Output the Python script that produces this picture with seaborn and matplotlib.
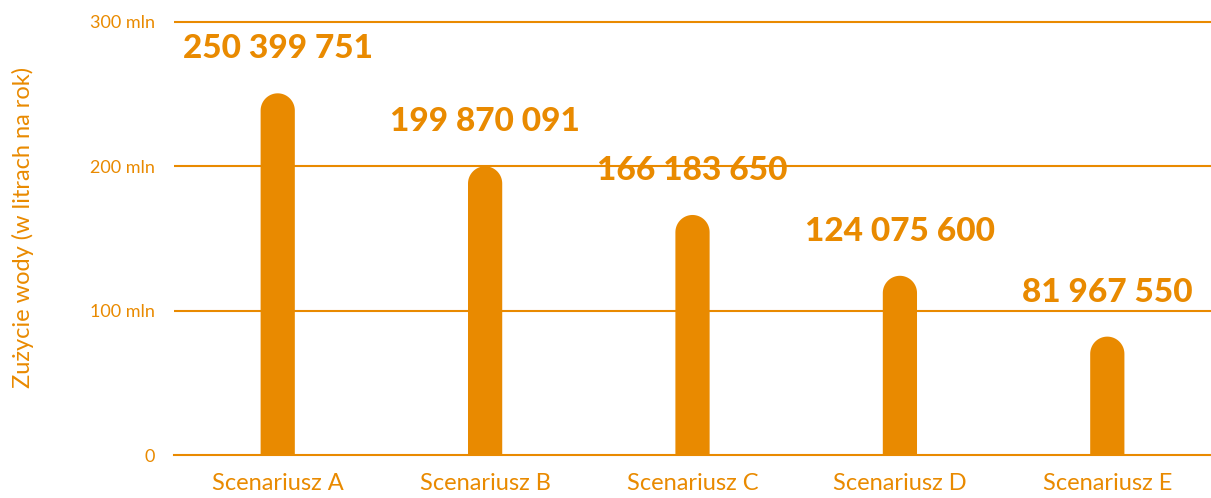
import matplotlib
matplotlib.use("Agg")
import matplotlib.pyplot as plt
import numpy as np
import pandas as pd
import seaborn as sns
from matplotlib.patches import Polygon

# --- Dane ---
scenariusze = ["Scenariusz A", "Scenariusz B", "Scenariusz C", "Scenariusz D", "Scenariusz E"]
zuzycie = [250399751, 199870091, 166183650, 124075600, 81967550]
etykiety = ["250 399 751", "199 870 091", "166 183 650", "124 075 600", "81 967 550"]
y_ticks = [0, 100e6, 200e6, 300e6]
y_tick_labels = ["0", "100 mln", "200 mln", "300 mln"]

POMARANCZ = "#E98A00"

sns.set_theme(style="white")
plt.rcParams['font.family'] = ['Lato', 'DejaVu Sans']

df = pd.DataFrame({"scenariusz": scenariusze, "zuzycie": zuzycie})

fig = plt.figure(figsize=(12.11, 4.98), dpi=100)
ax = fig.add_axes([0.1437, 0.0863, 0.8563, 0.9137])

sns.barplot(data=df, x="scenariusz", y="zuzycie", color=POMARANCZ,
            width=0.165, saturation=1, ax=ax)

ax.set_ylim(0, 315e6)
ax.set_xlim(-0.5, 4.46)

# zaokrąglone końce słupków (półkole w pikselach)
ax_w = ax.get_position().width * fig.get_figwidth() * fig.dpi
ax_h = ax.get_position().height * fig.get_figheight() * fig.dpi
aspect = (ax_w / 4.96) / (ax_h / 315e6)
t = np.linspace(0, np.pi, 40)
for patch in list(ax.patches):
    x0, w, h = patch.get_x(), patch.get_width(), patch.get_height()
    r = w / 2
    ry = r * aspect
    cx = x0 + r
    arc = np.column_stack([cx + r * np.cos(t), h - ry + ry * np.sin(t)])
    pts = np.vstack([[x0 + w, 0], arc, [x0, 0]])
    patch.remove()
    ax.add_patch(Polygon(pts, closed=True, facecolor=POMARANCZ,
                         edgecolor="none", zorder=3))

# etykiety wartości
for i, (v, txt) in enumerate(zip(zuzycie, etykiety)):
    ax.annotate(txt, xy=(i, v), xytext=(0, 32), textcoords="offset points",
                ha="center", va="center", fontsize=24, fontweight="black",
                color=POMARANCZ)

# siatka
for yv in y_ticks[1:]:
    ax.axhline(yv, color=POMARANCZ, lw=1.5, zorder=0)

ax.set_yticks(y_ticks)
ax.set_yticklabels(y_tick_labels, color=POMARANCZ, fontsize=13)
ax.tick_params(axis="y", length=0, pad=14)

# oś X: kreski na granicach, podpisy na środkach
ax.set_xticks([-0.5, 0.5, 1.5, 2.5, 3.5, 4.5])
ax.set_xticklabels([])
ax.tick_params(axis="x", which="major", length=18, width=1.5, color=POMARANCZ, direction="out")
ax.set_xticks(range(len(scenariusze)), minor=True)
ax.set_xticklabels(scenariusze, minor=True, color=POMARANCZ, fontsize=17)
ax.tick_params(axis="x", which="minor", length=0, pad=13)

for s in ["top", "right", "left"]:
    ax.spines[s].set_visible(False)
ax.spines["bottom"].set_color(POMARANCZ)
ax.spines["bottom"].set_linewidth(1.5)

ax.set_xlabel("")
ax.set_ylabel("Zużycie wody (w litrach na rok)", color=POMARANCZ, fontsize=17)
ax.yaxis.set_label_coords(-0.135, 0.5)

fig.savefig("out.png", dpi=100)
